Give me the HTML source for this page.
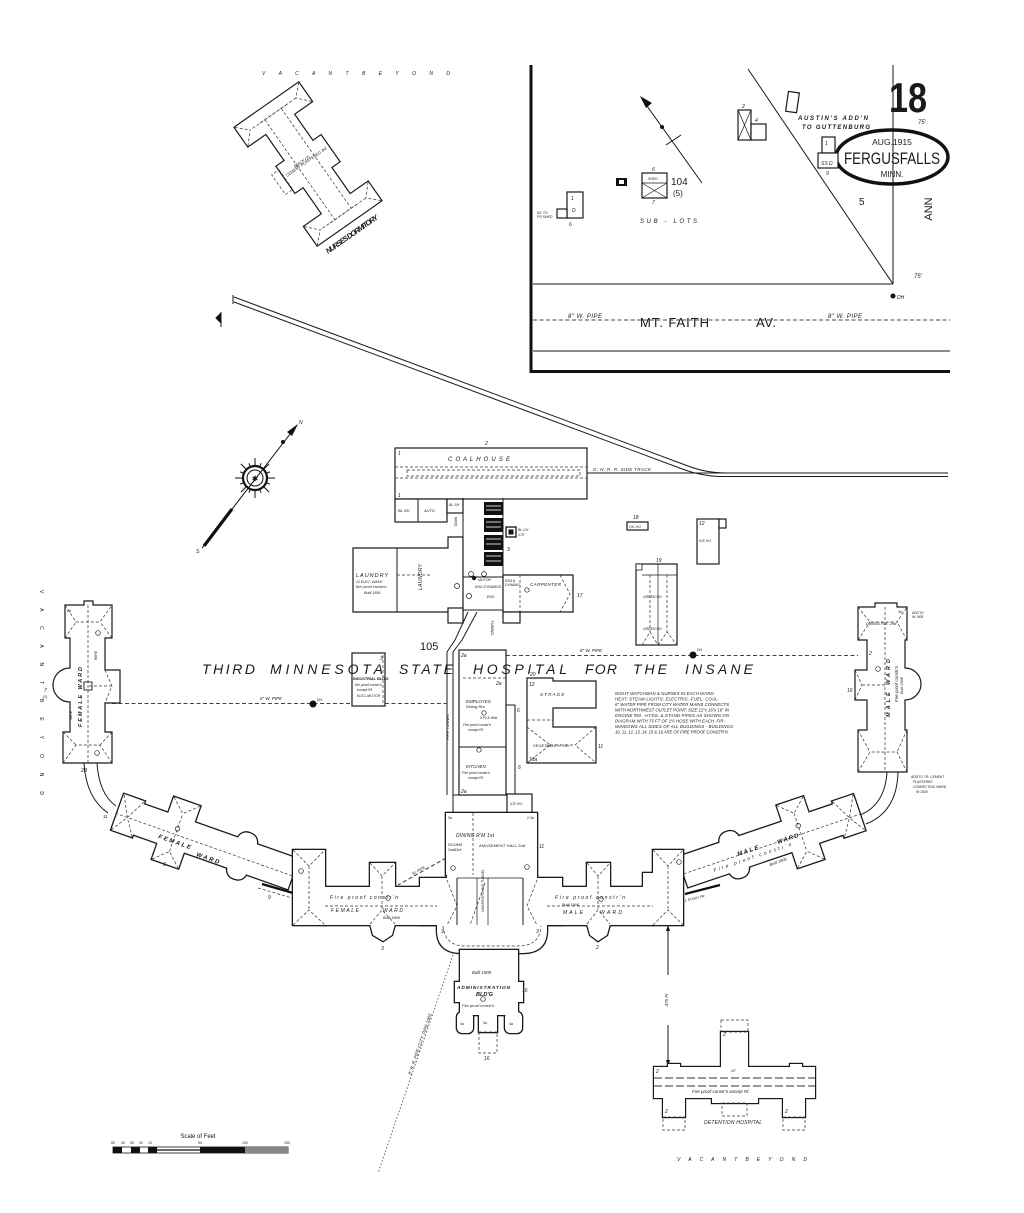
<!DOCTYPE html>
<html><head><meta charset="utf-8"><style>
html,body{margin:0;padding:0;background:#fff}
svg{display:block}
text{font-family:"Liberation Sans",sans-serif;fill:#1a1a1a}
.i{font-style:italic}
.o{fill:#fff;stroke:#1a1a1a;stroke-width:1.2}
.l{fill:none;stroke:#1a1a1a;stroke-width:1}
.t{fill:none;stroke:#1a1a1a;stroke-width:.7}
.d{fill:none;stroke:#333;stroke-width:.7;stroke-dasharray:3 2}
.p{fill:none;stroke:#444;stroke-width:1.1;stroke-dasharray:4 2.5}
.s{font-size:5px;font-style:italic}
.s6{font-size:6px;font-style:italic}
</style></head><body>
<svg width="1024" height="1213" viewBox="0 0 1024 1213" xmlns="http://www.w3.org/2000/svg">
<rect width="1024" height="1213" fill="#fff"/>
<defs>
<g id="dw">
<rect x="0" y="-16" width="186" height="32"/>
<rect x="110" y="-33" width="28" height="66"/>
<rect x="44" y="-24" width="20" height="48" rx="9"/>
<rect x="164" y="-19" width="22" height="38"/>
</g>
<g id="cc">
<rect x="293" y="850" width="32" height="75"/>
<rect x="325" y="887" width="122" height="38"/>
<rect x="370" y="863" width="25" height="62"/>
<polygon points="370,924 395,924 392,935 383,941 373,935"/>
<rect x="420" y="878" width="27" height="47"/>
<rect x="446" y="813" width="91" height="62"/>
<rect x="447" y="875" width="90" height="50"/>
<path d="M437,924 L437,930 Q437,953 462,953 L522,953 Q547,953 547,930 L547,924 Z"/>
<rect x="537" y="887" width="116" height="38"/>
<rect x="537" y="878" width="25" height="47"/>
<rect x="587" y="863" width="23" height="62"/>
<polygon points="587,924 610,924 607,935 598,941 590,935"/>
<rect x="643" y="873" width="10" height="14"/>
<rect x="653" y="850" width="30" height="75"/>
</g>
<g id="ad">
<rect x="460" y="950" width="58" height="32"/>
<rect x="455" y="982" width="68" height="20"/>
<rect x="460" y="1001" width="58" height="14"/>
<rect x="457" y="1012" width="16" height="21" rx="5"/>
<rect x="505" y="1012" width="17" height="21" rx="5"/>
<rect x="479" y="1011" width="18" height="21"/>
</g>
<g id="dh">
<rect x="654" y="1067" width="161" height="31"/>
<rect x="721" y="1032" width="27" height="35"/>
<rect x="663" y="1098" width="22" height="19"/>
<rect x="712" y="1098" width="46" height="5"/>
<rect x="783" y="1098" width="22" height="19"/>
<rect x="668" y="1064" width="12" height="3"/>
<rect x="790" y="1064" width="12" height="3"/>
</g>
<g id="nd">
<rect x="-72" y="-39" width="23" height="78"/>
<rect x="49" y="-39" width="23" height="78"/>
<rect x="-50" y="-17" width="100" height="34"/>
<rect x="-16" y="-27" width="32" height="54"/>
</g>
</defs>

<!-- ===== INSET (top right) ===== -->
<line x1="531" y1="65" x2="531" y2="373" stroke="#111" stroke-width="3"/>
<line x1="530" y1="371.5" x2="950" y2="371.5" stroke="#111" stroke-width="3"/>
<line x1="533" y1="284" x2="893" y2="284" class="l"/>
<line x1="893" y1="65" x2="893" y2="284" class="l"/>
<line x1="533" y1="351" x2="950" y2="351" class="l"/>
<line x1="748" y1="69" x2="893" y2="284" class="l"/>
<line x1="533" y1="320" x2="950" y2="320" class="p" stroke-width=".8"/>
<text x="568" y="318" class="s6" textLength="34">8" W. PIPE</text>
<text x="828" y="318" class="s6" textLength="34">8" W. PIPE</text>
<text x="640" y="327" font-size="13" textLength="69">MT. FAITH</text>
<text x="756" y="327" font-size="13" textLength="20">AV.</text>
<circle cx="893" cy="296" r="2.5" fill="#111"/>
<text x="897" y="299" class="s">DH</text>
<text x="918" y="124" class="s6">75'</text>
<text x="914" y="278" class="s6">75'</text>
<text x="889" y="112" font-family="Liberation Serif,serif" font-weight="bold" font-size="42" textLength="38" lengthAdjust="spacingAndGlyphs">18</text>
<ellipse cx="892" cy="157" rx="56" ry="27" fill="none" stroke="#111" stroke-width="3.5"/>
<text x="892" y="145" font-size="8.5" text-anchor="middle">AUG.1915</text>
<text x="844" y="164" font-size="17" textLength="96" lengthAdjust="spacingAndGlyphs">FERGUSFALLS</text>
<text x="892" y="177" font-size="8" text-anchor="middle">MINN.</text>
<text x="928" y="209" font-size="11" text-anchor="middle" transform="rotate(-90 928 209)" dy="4">ANN</text>
<text x="859" y="205" font-size="10">5</text>
<text x="798" y="120" class="s6" textLength="70" font-weight="bold">AUSTIN'S ADD'N</text>
<text x="802" y="129" class="s6" textLength="68" font-weight="bold">TO GUTTENBURG</text>
<text x="640" y="223" class="s6" textLength="57">SUB - LOTS</text>
<text x="671" y="185" font-size="10">104</text>
<text x="673" y="196" font-size="8">(5)</text>
<!-- inset arrow -->
<line x1="642" y1="99" x2="702" y2="183" class="l"/>
<polygon points="640,96 652,103 646,108" fill="#111"/>
<circle cx="662" cy="127" r="2" fill="#111"/>
<line x1="666" y1="145" x2="681" y2="135" class="l"/>
<!-- inset buildings -->
<rect x="567" y="192" width="16" height="26" class="o" stroke-width="1"/>
<rect x="557" y="209" width="10" height="9" class="o" stroke-width="1"/>
<text x="571" y="200" class="s">1</text><text x="572" y="212" class="s">D</text><text x="569" y="226" class="s">6</text>
<text x="537" y="214" font-size="3.5" class="i">6X' TO</text><text x="537" y="218" font-size="3.5" class="i">FR.SHED</text>
<rect x="616" y="178" width="11" height="8" fill="#111"/>
<rect x="619" y="180" width="5" height="4" fill="#fff"/>
<rect x="642" y="173" width="25" height="25" class="o" stroke-width="1"/>
<line x1="642" y1="183" x2="667" y2="183" class="t"/>
<line x1="642" y1="183" x2="667" y2="198" class="t"/><line x1="667" y1="183" x2="642" y2="198" class="t"/>
<text x="648" y="180" font-size="3.5" class="i">SHED</text><text x="652" y="171" class="s">6</text><text x="652" y="204" class="s">7</text>
<rect x="738" y="110" width="13" height="30" class="o" stroke-width="1"/>
<line x1="738" y1="110" x2="751" y2="140" class="t"/><line x1="751" y1="110" x2="738" y2="140" class="t"/>
<rect x="751" y="124" width="15" height="16" class="o" stroke-width="1"/>
<text x="742" y="108" class="s">2</text><text x="755" y="122" class="s">4</text>
<rect x="787" y="92" width="11" height="20" class="o" stroke-width="1" transform="rotate(8 792 102)"/>
<rect x="822" y="137" width="13" height="16" class="o" stroke-width="1"/>
<rect x="818" y="153" width="20" height="15" class="o" stroke-width="1"/>
<text x="825" y="145" class="s">1</text><text x="821" y="165" class="s">SS D</text><text x="826" y="175" class="s">9</text>

<!-- ===== NURSES DORMITORY ===== -->
<text x="262" y="75" class="s" textLength="188" fill="#555">V A C A N T     B E Y O N D</text>
<g transform="translate(308,164) rotate(55)">
<use href="#nd" fill="#1a1a1a" stroke="#1a1a1a" stroke-width="2.4"/>
<use href="#nd" fill="#fff"/>
<g class="d">
<line x1="-61" y1="-17" x2="-61" y2="17"/><line x1="61" y1="-17" x2="61" y2="17"/>
<line x1="-61" y1="-10" x2="61" y2="-10"/><line x1="-61" y1="10" x2="61" y2="10"/>
<line x1="-72" y1="-39" x2="-61" y2="-28"/><line x1="-49" y1="-39" x2="-61" y2="-28"/>
<line x1="-72" y1="39" x2="-61" y2="28"/><line x1="-49" y1="39" x2="-61" y2="28"/>
<line x1="72" y1="-39" x2="61" y2="-28"/><line x1="49" y1="-39" x2="61" y2="-28"/>
<line x1="72" y1="39" x2="61" y2="28"/><line x1="49" y1="39" x2="61" y2="28"/>
<line x1="-61" y1="-28" x2="-61" y2="28"/><line x1="61" y1="-28" x2="61" y2="28"/>
<rect x="-12" y="27" width="24" height="9"/>
</g>
</g>
<text x="295" y="168" font-size="4" class="i" transform="rotate(-35 295 168)">BRICK (2)</text>
<text x="287" y="177" font-size="4" class="i" transform="rotate(-35 287 177)">CEMENT PLASTERED 3rd</text>
<text x="328" y="254" font-size="7.5" class="i" font-weight="bold" transform="rotate(-35 328 254)" textLength="62">NURSES DORMITORY</text>

<!-- ===== RAILWAY ===== -->
<line x1="233" y1="295" x2="233" y2="304" class="l"/>
<path d="M234,297 L688,466 Q706,473 727,473 L948,473" class="l" stroke-width=".9"/>
<path d="M234,302 L685,470 Q702,476 720,476.5 L948,476.5" class="l" stroke-width=".9"/>
<line x1="587" y1="473" x2="727" y2="473" class="l" stroke-width=".9"/>
<text x="593" y="471" font-size="4.5" class="i" textLength="58">G. N. R. R. SIDE TRACK</text>
<path d="M221,312 L221,327 M221,313 L216,318 L221,323 Z" fill="#111" stroke="#111" stroke-width="1"/>

<!-- ===== COMPASS ===== -->
<g stroke="#111" stroke-width="1">
<line x1="267" y1="478" x2="275" y2="478"/><line x1="266.1" y1="482.6" x2="269.8" y2="484.1"/>
<line x1="263.5" y1="486.5" x2="269.1" y2="492.1"/><line x1="259.6" y1="489.1" x2="261.1" y2="492.8"/>
<line x1="255" y1="490" x2="255" y2="498"/><line x1="250.4" y1="489.1" x2="248.9" y2="492.8"/>
<line x1="246.5" y1="486.5" x2="240.9" y2="492.1"/><line x1="243.9" y1="482.6" x2="240.2" y2="484.1"/>
<line x1="243" y1="478" x2="235" y2="478"/><line x1="243.9" y1="473.4" x2="240.2" y2="471.9"/>
<line x1="246.5" y1="469.5" x2="240.9" y2="463.9"/><line x1="250.4" y1="466.9" x2="248.9" y2="463.2"/>
<line x1="255" y1="466" x2="255" y2="458"/><line x1="259.6" y1="466.9" x2="261.1" y2="463.2"/>
<line x1="263.5" y1="469.5" x2="269.1" y2="463.9"/><line x1="266.1" y1="473.4" x2="269.8" y2="471.9"/>
</g>
<circle cx="255" cy="478" r="12" fill="#fff" stroke="#111" stroke-width="2.2"/>
<circle cx="255" cy="478" r="8" fill="none" stroke="#111" stroke-width="1"/>
<text x="255" y="481" font-size="7" text-anchor="middle" font-weight="bold">✱</text>
<line x1="202" y1="548" x2="297" y2="425" stroke="#111" stroke-width="1"/>
<line x1="204" y1="546" x2="232" y2="509" stroke="#111" stroke-width="3.2"/>
<polygon points="298,424 292,436 287,432" fill="#111"/>
<circle cx="283" cy="442" r="2" fill="#111"/>
<text x="299" y="424" font-size="5" class="i">N</text>
<text x="196" y="553" font-size="5" class="i">S</text>

<!-- ===== COAL HOUSE & SERVICE ===== -->
<rect x="395" y="448" width="192" height="51" class="o"/>
<line x1="395" y1="467" x2="587" y2="467" class="d"/>
<line x1="395" y1="478" x2="587" y2="478" class="d"/>
<rect x="407" y="470" width="173" height="6" class="d"/>
<text x="448" y="461" font-size="6" class="i" textLength="62">C O A L   H O U S E</text>
<text x="485" y="445" class="s">2</text><text x="398" y="455" class="s">1</text><text x="398" y="497" class="s">1</text>
<rect x="395" y="499" width="52" height="23" class="o"/>
<line x1="418" y1="499" x2="418" y2="522" class="l"/>
<rect x="447" y="499" width="16" height="14" class="o"/>
<text x="398" y="512" font-size="4" class="i">BL.SH</text><text x="424" y="512" font-size="4" class="i">AUTO</text><text x="449" y="506" font-size="3.5" class="i">BL.SH</text>
<line x1="463" y1="498" x2="463" y2="612" class="l" stroke-width="1.2"/>
<line x1="503" y1="498" x2="503" y2="577" class="l" stroke-width="1.2"/>
<g fill="#111">
<rect x="484" y="502" width="19" height="13"/><rect x="484" y="518" width="19" height="14"/>
<rect x="484" y="535" width="19" height="15"/><rect x="484" y="552" width="19" height="14"/>
</g>
<g stroke="#fff" stroke-width=".8">
<line x1="486" y1="506" x2="501" y2="506"/><line x1="486" y1="510" x2="501" y2="510"/>
<line x1="486" y1="522" x2="501" y2="522"/><line x1="486" y1="527" x2="501" y2="527"/>
<line x1="486" y1="539" x2="501" y2="539"/><line x1="486" y1="544" x2="501" y2="544"/>
<line x1="486" y1="556" x2="501" y2="556"/><line x1="486" y1="561" x2="501" y2="561"/>
</g>
<rect x="506" y="527" width="10" height="10" fill="#fff" stroke="#111" stroke-width="1.3"/>
<rect x="508.5" y="529.5" width="5" height="5" fill="#111"/>
<text x="518" y="531" font-size="3.5" class="i">BL.CH</text><text x="518" y="536" font-size="3.5" class="i">175'</text>
<text x="507" y="551" class="s">3</text>
<polygon points="353,548 448,548 448,537 463,537 463,612 353,612" class="o"/>
<line x1="397" y1="548" x2="397" y2="612" class="l"/>
<line x1="397" y1="575" x2="430" y2="575" class="d"/>
<text x="356" y="577" font-size="5.5" class="i" textLength="32">LAUNDRY</text>
<text x="356" y="583" font-size="3.5" class="i">12 ELEC. WASH</text>
<text x="356" y="588" font-size="4" class="i">fire proof constr'n</text>
<text x="364" y="594" font-size="3.8" class="i">Built 1891</text>
<text x="422" y="590" font-size="5" class="i" transform="rotate(-90 422 590)" textLength="26">LAUNDRY</text>
<text x="457" y="527" font-size="4" class="i" transform="rotate(-90 457 527)">TANK</text>
<rect x="463" y="577" width="40" height="33" fill="none" stroke="#1a1a1a"/>
<circle cx="471" cy="574" r="2.4" class="t"/><circle cx="484" cy="574" r="2.4" class="t"/>
<circle cx="474" cy="578" r="2.2" fill="#111"/>
<circle cx="469" cy="596" r="2.5" class="t"/><circle cx="457" cy="586" r="2.5" class="t"/>
<text x="478" y="581" font-size="3.5" class="i">MOTOR</text>
<text x="475" y="588" font-size="3.5" class="i">ENG  DYNAMOS</text>
<text x="487" y="598" font-size="3.5" class="i">ENG</text>
<polygon points="503,575 573,575 573,612 503,612" class="o"/>
<path d="M560,575 L570,594 L560,612" class="d"/>
<line x1="520" y1="575" x2="520" y2="612" class="d"/>
<text x="530" y="586" font-size="4.5" class="i" textLength="31">CARPENTER</text>
<circle cx="527" cy="590" r="2.2" class="t"/>
<text x="505" y="582" font-size="3.3" class="i">ENG.&amp;</text><text x="505" y="586" font-size="3.3" class="i">DYNAMO</text>
<text x="577" y="597" class="s">17</text>
<rect x="503" y="612" width="17" height="11" class="o"/>
<rect x="448" y="608" width="15" height="15" class="o"/>
<!-- tunnel -->
<path d="M468,612 L455,640 L447,652 L447,795" class="l"/>
<path d="M477,612 L462,640 L453,652 L453,795" class="l"/>
<text x="491" y="620" font-size="4" class="i" transform="rotate(90 491 620)">TUNNEL</text>
<text x="420" y="650" font-size="11">105</text>

<!-- small outbuildings -->
<rect x="627" y="522" width="21" height="8" class="o" stroke-width="1"/>
<text x="629" y="528" font-size="3.5" class="i">OIL HO</text><text x="633" y="519" class="s">18</text>
<rect x="697" y="519" width="22" height="45" class="o" stroke-width="1"/>
<rect x="719" y="519" width="7" height="9" class="o" stroke-width="1"/>
<text x="699" y="525" class="s">12</text><text x="699" y="542" font-size="3.5" class="i">ICE HO.</text>
<rect x="636" y="564" width="41" height="81" class="o" stroke-width="1"/>
<rect x="636" y="564" width="6" height="6" fill="#fff" stroke="#1a1a1a" stroke-width=".8"/>
<line x1="658" y1="564" x2="658" y2="645" class="t"/>
<line x1="642" y1="575" x2="677" y2="575" class="t"/>
<line x1="650" y1="575" x2="650" y2="632" class="d"/><line x1="667" y1="575" x2="667" y2="632" class="d"/>
<path d="M642,645 L650,632 L658,645 M658,645 L667,632 L677,645" class="d"/>
<text x="643" y="598" font-size="3.5" class="i">GREEN HO</text><text x="643" y="630" font-size="3.5" class="i">GREEN HO</text>
<text x="656" y="562" class="s">19</text>

<!-- water pipes -->
<line x1="112" y1="703.5" x2="447" y2="703.5" class="p"/>
<circle cx="313" cy="704" r="3.5" fill="#111"/>
<text x="260" y="700" font-size="4.5" class="i">8" W. PIPE</text><text x="317" y="701" font-size="3.5">DH</text>
<line x1="506" y1="655.5" x2="858" y2="655.5" class="p"/>
<circle cx="693" cy="655" r="3.5" fill="#111"/>
<text x="580" y="652" font-size="4.5" class="i">8" W. PIPE</text><text x="697" y="651" font-size="3.5">DH</text>

<!-- industrial bldg -->
<rect x="352" y="653" width="33" height="53" class="o"/>
<line x1="383" y1="655" x2="383" y2="706" class="d"/>
<text x="380" y="660" class="s">3</text>
<text x="353" y="680" font-size="3.8" class="i" font-weight="bold">INDUSTRIAL BLD'G</text>
<text x="355" y="686" font-size="3.5" class="i">fire proof constr'n</text>
<text x="357" y="691" font-size="3.5" class="i">except Rf.</text>
<text x="357" y="697" font-size="3.5" class="i">ELEC-MOTOR</text>

<!-- employees / kitchen -->
<rect x="459" y="650" width="47" height="145" class="o"/>
<line x1="463" y1="678" x2="506" y2="678" class="d"/>
<line x1="459" y1="747" x2="506" y2="747" class="l"/>
<path d="M506,705 L515,705 L515,795" class="l"/>
<text x="461" y="657" class="s">2a</text><text x="496" y="685" class="s">2a</text><text x="461" y="793" class="s">2a</text>
<text x="466" y="703" font-size="4.5" class="i">EMPLOYES</text>
<text x="466" y="708" font-size="4" class="i">Dining Rm</text>
<circle cx="484" cy="713" r="2.2" class="t"/>
<text x="480" y="719" font-size="3.5" class="i">5"Pr.&amp; Wat.</text>
<text x="463" y="726" font-size="3.5" class="i">Fire proof constr'n</text>
<text x="468" y="731" font-size="3.5" class="i">except Rf.</text>
<circle cx="479" cy="750" r="2.2" class="t"/>
<text x="466" y="768" font-size="4.5" class="i">KITCHEN</text>
<text x="462" y="774" font-size="3.5" class="i">Fire proof constr'n</text>
<text x="468" y="779" font-size="3.5" class="i">except Rf.</text>
<text x="449" y="740" font-size="4" class="i" transform="rotate(-90 449 740)">PIPE TUNNEL</text>
<text x="517" y="712" class="s">6</text><text x="518" y="769" class="s">6</text>
<rect x="453" y="795" width="54" height="18" fill="none" stroke="#1a1a1a"/>
<rect x="507" y="794" width="25" height="19" class="o"/>
<text x="510" y="805" font-size="3.5" class="i">ICE HO.</text>

<!-- storage / vegetable -->
<polygon points="527,678 553,678 553,681 596,681 596,708 553,708 553,727 596,727 596,763 527,763" class="o"/>
<line x1="527" y1="720" x2="553" y2="720" class="d"/>
<path d="M527,727 L550,745 L527,763 M596,727 L575,745 L596,763 M550,745 L575,745" class="d"/>
<text x="540" y="696" font-size="4.5" class="i">S T R A G E</text>
<text x="533" y="747" font-size="4" class="i">VEGETABLE H. HO.</text>
<text x="529" y="686" class="s">12</text><text x="529" y="761" class="s">13a</text><text x="598" y="748" class="s">11</text><text x="530" y="676" class="s">20</text>

<!-- notes -->
<g font-size="4.3" class="i" fill="#222">
<text x="615" y="695" textLength="100">NIGHT WATCHMAN &amp; NURSES IN EACH WARD-</text>
<text x="615" y="700.5" textLength="104">HEAT: STEAM-LIGHTS: ELECTRIC.-FUEL: COAL-</text>
<text x="615" y="706" textLength="114">6" WATER PIPE FROM CITY WATER MAINS CONNECTS</text>
<text x="615" y="711.5" textLength="114">WITH NORTHWEST OUTLET POINT, SIZE 12"x 16"x 16" IN</text>
<text x="615" y="717" textLength="114">ENGINE RM. -HYDS. &amp; STAND PIPES AS SHOWN ON</text>
<text x="615" y="722.5" textLength="110">DIAGRAM WITH 75 FT OF 1½ HOSE WITH EACH. FIR-</text>
<text x="615" y="728" textLength="118">WINDOWS ALL SIDES OF ALL BUILDINGS - BUILDINGS</text>
<text x="615" y="733.5" textLength="114">10, 11, 12, 13, 14, 15 &amp; 16 ARE OF FIRE PROOF CONSTR'N.</text>
</g>

<!-- ===== FEMALE VERTICAL WARD ===== -->
<text x="40" y="590" font-size="5" fill="#999" transform="rotate(90 40 590)" textLength="205">V A C A N T     B E Y O N D</text>
<path d="M65,605 L84,605 L84,601 L93,601 L93,605 L112,605 L112,638 L105,638 L105,670 L120,670 L120,703 L105,703 L105,732 L112,732 L112,763 L63,763 L63,732 L70,732 L70,702 A17,17 0 0 1 70,668 L70,638 L65,638 Z" class="o" stroke-width="1.4"/>
<g class="d">
<line x1="88" y1="605" x2="88" y2="763"/>
<path d="M65,605 L76,622 L100,622 L112,605 M65,638 L76,622 M112,638 L100,622"/>
<path d="M63,763 L76,745 L100,745 L112,763 M63,732 L76,745 M112,732 L100,745"/>
<path d="M105,670 L112,686 L105,703 M112,686 L88,686"/>
</g>
<rect x="84" y="682" width="8" height="8" fill="none" stroke="#1a1a1a" stroke-width=".9"/>
<circle cx="98" cy="633" r="2.3" class="t"/><circle cx="97" cy="753" r="2.3" class="t"/>
<text x="82" y="727" font-size="5.5" class="i" font-weight="bold" transform="rotate(-90 82 727)" textLength="60">FEMALE WARD</text>
<text x="44" y="692" class="s">7</text><text x="43" y="698" font-size="3.5">(2)</text>
<text x="67" y="612" font-size="3.5">2a</text><text x="81" y="772" class="s">2B</text>
<text x="72" y="720" font-size="3.5" transform="rotate(-90 72 720)">WIRE</text>
<text x="97" y="660" font-size="3.5" transform="rotate(-90 97 660)">WIRE</text>
<!-- female connector -->
<path d="M84,763 Q86,798 108,813" class="l" stroke-width="1.1"/>
<path d="M97,763 Q99,794 116,806" class="l" stroke-width="1.1"/>
<text x="103" y="818" font-size="4.5" class="i">11</text>

<!-- ===== MALE VERTICAL WARD ===== -->
<path d="M858,607 L875,607 L875,603 L897,603 L897,607 L907,607 L907,640 L905,640 L905,668 A16,16 0 0 1 905,700 L905,730 L907,730 L907,772 L858,772 L858,730 L867,730 L867,700 L855,700 L855,670 L867,670 L867,640 L858,640 Z" class="o" stroke-width="1.4"/>
<g class="d">
<line x1="885" y1="607" x2="885" y2="772"/>
<path d="M858,607 L870,622 L897,622 L907,607 M858,640 L870,622 M907,640 L897,622"/>
<path d="M858,772 L870,752 L897,752 L907,772 M858,730 L870,752 M907,730 L897,752"/>
<path d="M855,670 L862,685 L855,700 M862,685 L885,685"/>
</g>
<circle cx="878" cy="669" r="2.3" class="t"/>
<text x="890" y="717" font-size="5.5" class="i" font-weight="bold" transform="rotate(-90 890 717)" textLength="58">MALE WARD</text>
<text x="898" y="702" font-size="4.5" class="i" transform="rotate(-90 898 702)">Fire proof constr'n</text>
<text x="903" y="694" font-size="3.8" class="i" transform="rotate(-90 903 694)">Built 1908</text>
<text x="866" y="625" font-size="4" class="i">DINING RM. 2nd</text>
<text x="898" y="613" font-size="3.5">3a</text>
<text x="912" y="614" font-size="3.2" class="i">ADD'TO</text><text x="912" y="618" font-size="3.2" class="i">IN 1908</text>
<text x="847" y="692" class="s">16</text>
<text x="869" y="655" font-size="5" class="i">2</text>
<!-- male connector -->
<path d="M887,772 Q885,805 860,815" class="l" stroke-width="1.1"/>
<path d="M898,772 Q897,812 866,824" class="l" stroke-width="1.1"/>
<text x="911" y="778" font-size="3.3" class="i">ADD'TO TR. CEMENT</text>
<text x="913" y="783" font-size="3.3" class="i">PLASTERED</text>
<text x="913" y="788" font-size="3.3" class="i">CONNECTING WARD</text>
<text x="916" y="793" font-size="3.3" class="i">IN 1908</text>

<!-- ===== DIAGONAL WARDS ===== -->
<g transform="translate(293,874) rotate(199.5)">
<use href="#dw" fill="#1a1a1a" stroke="#1a1a1a" stroke-width="2.6"/>
<use href="#dw" fill="#fff"/>
<g class="d">
<line x1="0" y1="-2" x2="186" y2="-2"/>
<path d="M110,-33 L124,-20 L138,-33 M124,-20 L124,20 M110,33 L124,20 L138,33"/>
<path d="M186,-19 L175,-2 L186,19 M164,-19 L175,-2 L164,19"/>
</g>
<circle cx="124" cy="4" r="2.3" class="t"/>
</g>
<text x="158" y="838" font-size="6" class="i" font-weight="bold" transform="rotate(19.5 158 838)" textLength="34">FEMALE</text>
<text x="196" y="856" font-size="6" class="i" font-weight="bold" transform="rotate(19.5 196 856)" textLength="24">WARD</text>
<text x="163" y="866" class="s">3</text>
<path d="M262,884 L293,893" stroke="#111" stroke-width="2.3"/>
<path d="M258,888 L292,898" class="d"/>
<text x="268" y="899" class="s">9</text>

<g transform="translate(683,872) rotate(-18.7)">
<use href="#dw" fill="#1a1a1a" stroke="#1a1a1a" stroke-width="2.6"/>
<use href="#dw" fill="#fff"/>
<g class="d">
<line x1="0" y1="2" x2="186" y2="2"/>
<path d="M110,-33 L124,-20 L138,-33 M124,-20 L124,20 M110,33 L124,20 L138,33"/>
<path d="M186,-19 L175,2 L186,19 M164,-19 L175,2 L164,19"/>
</g>
<circle cx="124" cy="-7" r="2.3" class="t"/>
</g>
<text x="738" y="856" font-size="6" class="i" font-weight="bold" transform="rotate(-18.7 738 856)" textLength="22">MALE</text>
<text x="778" y="844" font-size="6" class="i" font-weight="bold" transform="rotate(-18.7 778 844)" textLength="22">WARD</text>
<text x="714" y="872" font-size="5" class="i" transform="rotate(-18.7 714 872)" textLength="82">Fire proof constr'n</text>
<text x="770" y="866" font-size="4" class="i" transform="rotate(-18.7 770 866)">Built 1908</text>
<path d="M685,894 L720,885" stroke="#111" stroke-width="2.3"/>
<text x="685" y="902" font-size="3.5" class="i" transform="rotate(-14 685 902)">1 STORY FR.</text>

<!-- ===== CENTRAL COMPLEX ===== -->
<use href="#cc" fill="#1a1a1a" stroke="#1a1a1a" stroke-width="2.6"/>
<use href="#cc" fill="#fff"/>
<g class="d">
<path d="M293,850 L309,866 L325,850 M309,866 L309,910 M293,925 L309,910 L325,925"/>
<path d="M370,863 L382,876 L395,863 M382,876 L382,910 M370,924 L382,910 L395,924"/>
<path d="M587,863 L598,876 L610,863 M598,876 L598,910 M587,924 L598,910 L610,924"/>
<path d="M653,850 L668,866 L683,850 M668,866 L668,910 M653,925 L668,910 L683,925"/>
<line x1="325" y1="906" x2="437" y2="906"/>
<line x1="547" y1="906" x2="653" y2="906"/>
<path d="M447,880 L457,906 L447,925 M537,880 L527,906 L537,925"/>
<line x1="473" y1="813" x2="473" y2="875"/>
<path d="M443,926 Q445,946 465,946 L518,946 Q540,946 541,926"/>
<line x1="485" y1="883" x2="470" y2="925"/>
</g>
<line x1="457" y1="878" x2="457" y2="925" class="l"/>
<line x1="523" y1="878" x2="523" y2="925" class="l"/>
<line x1="477" y1="878" x2="477" y2="925" class="t"/>
<line x1="488" y1="878" x2="488" y2="925" class="t"/>
<line x1="457" y1="878" x2="523" y2="878" class="t"/>
<text x="484" y="912" font-size="3.5" class="i" transform="rotate(-90 484 912)">UNDERGROUND TUNNEL</text>
<text x="456" y="837" font-size="5" class="i" textLength="38">DINING R'M 1st</text>
<text x="479" y="847" font-size="4" class="i" textLength="46">AMUSEMENT HALL 2nd</text>
<text x="448" y="846" font-size="3.8" class="i">ROOMS</text>
<text x="448" y="851" font-size="3.5" class="i">2nd&amp;3rd</text>
<circle cx="453" cy="868" r="2.3" class="t"/><circle cx="527" cy="867" r="2.3" class="t"/>
<text x="448" y="819" font-size="3.5">3a</text><text x="527" y="819" font-size="3.5">2·3a</text>
<text x="539" y="848" class="s">11</text>
<line x1="446" y1="858" x2="398" y2="885" class="p" stroke-width=".8"/>
<text x="413" y="875" font-size="3.8" class="i" transform="rotate(-29 413 875)">W. PIPE</text>
<text x="330" y="899" font-size="5" class="i" textLength="68">Fire proof constr'n</text>
<text x="331" y="912" font-size="5" class="i" textLength="28">FEMALE</text>
<text x="383" y="912" font-size="5" class="i" textLength="20">WARD</text>
<text x="383" y="919" font-size="3.8" class="i">Built 1906</text>
<circle cx="388" cy="898" r="2.3" class="t"/>
<text x="555" y="899" font-size="5" class="i" textLength="70">Fire proof constr'n</text>
<text x="562" y="906" font-size="3.8" class="i">Built 1906</text>
<text x="563" y="914" font-size="5" class="i" textLength="20">MALE</text>
<text x="600" y="914" font-size="5" class="i" textLength="22">WARD</text>
<circle cx="601" cy="899" r="2.3" class="t"/>
<circle cx="301" cy="871" r="2.3" class="t"/><circle cx="679" cy="862" r="2.3" class="t"/>
<text x="381" y="950" class="s">3</text><text x="596" y="949" class="s">2</text>
<text x="441" y="933" class="s">3</text><text x="536" y="933" class="s">3</text>

<!-- ===== ADMIN ===== -->
<use href="#ad" fill="#1a1a1a" stroke="#1a1a1a" stroke-width="2.6"/>
<use href="#ad" fill="#fff"/>
<rect x="479" y="1032" width="18" height="21" class="d"/>
<text x="484" y="1060" class="s">16</text>
<text x="472" y="974" font-size="4.3" class="i">Built 1905</text>
<text x="457" y="989" font-size="4.8" class="i" font-weight="bold" textLength="53">ADMINISTRATION</text>
<text x="476" y="996" font-size="5.5" class="i" font-weight="bold">BLD'G</text>
<circle cx="483" cy="999" r="2.3" class="t"/>
<text x="462" y="1007" font-size="4" class="i">Fire proof constr'n</text>
<text x="522" y="992" class="s">16</text>
<text x="483" y="1024" font-size="3.5">3a</text>
<text x="460" y="1025" font-size="3.5">4a</text><text x="509" y="1025" font-size="3.5">4a</text>
<!-- pipe line -->
<line x1="453" y1="955" x2="378" y2="1173" stroke="#555" stroke-width=".9" stroke-dasharray="1.5 2"/>
<text x="411" y="1075" font-size="4.5" class="i" fill="#444" transform="rotate(-71 411 1075)">8" R. R. PIPE  CUTY. PIPE 1905</text>

<!-- ===== DETENTION HOSPITAL ===== -->
<line x1="668" y1="929" x2="668" y2="975" class="l" stroke-width=".8"/>
<line x1="668" y1="1025" x2="668" y2="1062" class="l" stroke-width=".8"/>
<polygon points="668,925 666,931 670,931" fill="#111"/>
<polygon points="668,1066 666,1060 670,1060" fill="#111"/>
<text x="668" y="1000" font-size="4.5" class="i" text-anchor="middle" transform="rotate(-90 668 1000)">475 Ft</text>
<use href="#dh" fill="#1a1a1a" stroke="#1a1a1a" stroke-width="2.4"/>
<use href="#dh" fill="#fff"/>
<g class="d">
<rect x="721" y="1020" width="27" height="12"/>
<rect x="663" y="1117" width="22" height="13"/>
<rect x="722" y="1103" width="25" height="13"/>
<rect x="783" y="1117" width="22" height="13"/>
</g>
<line x1="654" y1="1078" x2="815" y2="1078" stroke="#333" stroke-width=".9" stroke-dasharray="8 3"/>
<line x1="654" y1="1086" x2="815" y2="1086" stroke="#333" stroke-width=".9" stroke-dasharray="8 3"/>
<text x="692" y="1093" font-size="4.5" class="i">Fire proof constr'n except Rf.</text>
<text x="704" y="1124" font-size="5" class="i" textLength="58">DETENTION HOSPITAL</text>
<text x="731" y="1072" font-size="3.8" class="i">22'</text>
<text x="656" y="1073" class="s">2</text><text x="723" y="1036" class="s">2</text><text x="665" y="1113" class="s">2</text><text x="785" y="1113" class="s">2</text>
<text x="677" y="1161" font-size="5" class="i" fill="#555" textLength="130">V A C A N T     B E Y O N D</text>

<!-- ===== SCALE ===== -->
<text x="198" y="1138" font-size="6" text-anchor="middle" fill="#333">Scale of Feet</text>
<g font-size="3.5" fill="#444">
<text x="111" y="1144">50</text><text x="121" y="1144">40</text><text x="130" y="1144">30</text><text x="139" y="1144">20</text><text x="148" y="1144">10</text>
<text x="198" y="1144">50</text><text x="242" y="1144">100</text><text x="284" y="1144">150</text>
</g>
<rect x="113" y="1147" width="175" height="6" fill="#fff" stroke="#111" stroke-width=".8"/>
<rect x="113" y="1147" width="9" height="6" fill="#111"/>
<rect x="131" y="1147" width="9" height="6" fill="#111"/>
<rect x="148" y="1147" width="9" height="6" fill="#111"/>
<line x1="157" y1="1150" x2="200" y2="1150" stroke="#111" stroke-width="1.2"/>
<rect x="200" y="1147" width="45" height="6" fill="#111"/>
<rect x="245" y="1147" width="43" height="6" fill="#888"/>

<!-- ===== TITLE (drawn last, over buildings) ===== -->
<g font-size="14" class="i">
<text x="202" y="674" textLength="53" lengthAdjust="spacing">THIRD</text>
<text x="270" y="674" textLength="113" lengthAdjust="spacing">MINNESOTA</text>
<text x="399" y="674" textLength="54" lengthAdjust="spacing">STATE</text>
<text x="473" y="674" textLength="94" lengthAdjust="spacing">HOSPITAL</text>
<text x="585" y="674" textLength="32" lengthAdjust="spacing">FOR</text>
<text x="633" y="674" textLength="34" lengthAdjust="spacing">THE</text>
<text x="685" y="674" textLength="68" lengthAdjust="spacing">INSANE</text>
</g>
</svg>
</body></html>
